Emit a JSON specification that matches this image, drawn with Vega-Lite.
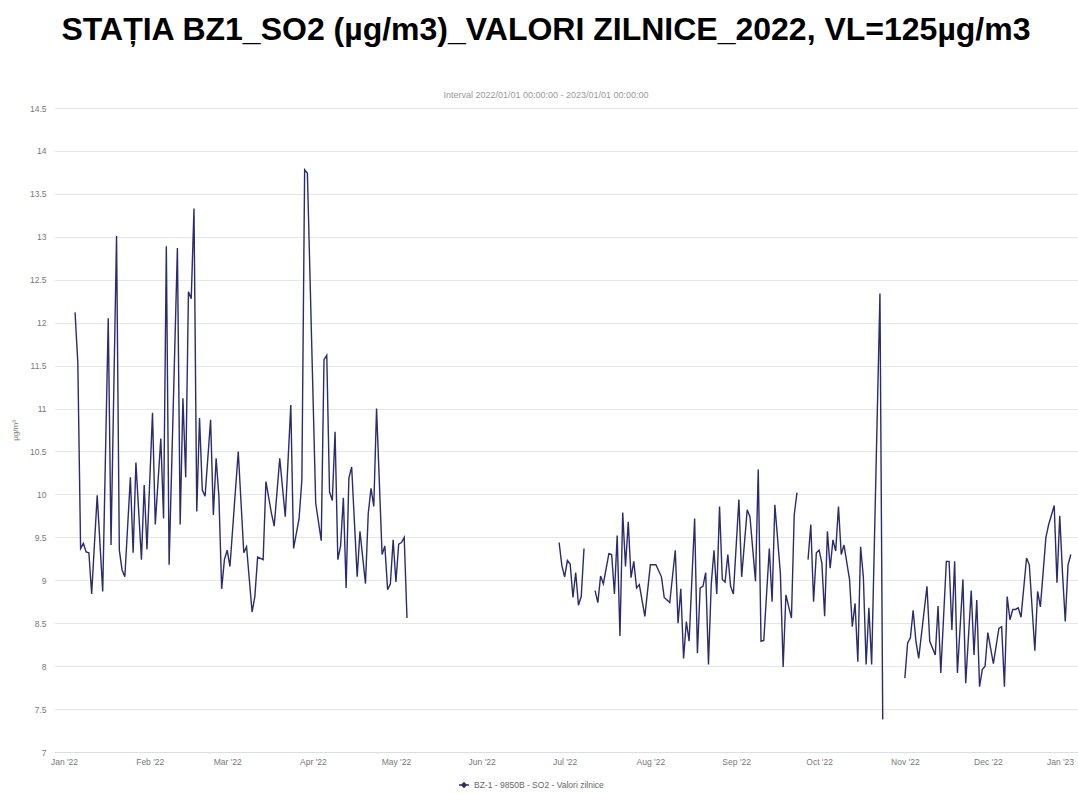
{
  "$schema": "https://vega.github.io/schema/vega-lite/v6.json",
  "width": 1024,
  "height": 644,
  "autosize": {"type": "none"},
  "padding": {"left": 54, "top": 108, "right": 0, "bottom": 42},
  "background": "white",
  "title": {
    "text": "STAȚIA BZ1_SO2 (µg/m3)_VALORI ZILNICE_2022, VL=125µg/m3",
    "subtitle": "Interval 2022/01/01 00:00:00 - 2023/01/01 00:00:00",
    "font": "Liberation Sans",
    "fontSize": 32,
    "fontWeight": "bold",
    "color": "#000000",
    "subtitleFont": "Liberation Sans",
    "subtitleFontSize": 9,
    "subtitleColor": "#999999",
    "subtitlePadding": 44,
    "offset": 3,
    "dx": -20,
    "anchor": "middle"
  },
  "data": {
    "format": {"parse": {"date": "date:'%Y-%m-%d'"}},
    "values": [
      {"date": "2022-01-05", "value": 12.12},
      {"date": "2022-01-06", "value": 11.53},
      {"date": "2022-01-07", "value": 9.37},
      {"date": "2022-01-08", "value": 9.43},
      {"date": "2022-01-09", "value": 9.33},
      {"date": "2022-01-10", "value": 9.32},
      {"date": "2022-01-11", "value": 8.84},
      {"date": "2022-01-13", "value": 9.99},
      {"date": "2022-01-15", "value": 8.87},
      {"date": "2022-01-17", "value": 12.05},
      {"date": "2022-01-18", "value": 9.41},
      {"date": "2022-01-20", "value": 13.01},
      {"date": "2022-01-21", "value": 9.35},
      {"date": "2022-01-22", "value": 9.12},
      {"date": "2022-01-23", "value": 9.04},
      {"date": "2022-01-25", "value": 10.2},
      {"date": "2022-01-26", "value": 9.32},
      {"date": "2022-01-27", "value": 10.37},
      {"date": "2022-01-29", "value": 9.24},
      {"date": "2022-01-30", "value": 10.11},
      {"date": "2022-01-31", "value": 9.36},
      {"date": "2022-02-02", "value": 10.95},
      {"date": "2022-02-03", "value": 9.65},
      {"date": "2022-02-05", "value": 10.65},
      {"date": "2022-02-06", "value": 9.72},
      {"date": "2022-02-07", "value": 12.89},
      {"date": "2022-02-08", "value": 9.18},
      {"date": "2022-02-11", "value": 12.87},
      {"date": "2022-02-12", "value": 9.65},
      {"date": "2022-02-13", "value": 11.12},
      {"date": "2022-02-14", "value": 10.2},
      {"date": "2022-02-15", "value": 12.36},
      {"date": "2022-02-16", "value": 12.28},
      {"date": "2022-02-17", "value": 13.33},
      {"date": "2022-02-18", "value": 9.8},
      {"date": "2022-02-19", "value": 10.89},
      {"date": "2022-02-20", "value": 10.05},
      {"date": "2022-02-21", "value": 9.98},
      {"date": "2022-02-23", "value": 10.87},
      {"date": "2022-02-24", "value": 9.76},
      {"date": "2022-02-25", "value": 10.42},
      {"date": "2022-02-26", "value": 9.98},
      {"date": "2022-02-27", "value": 8.9},
      {"date": "2022-02-28", "value": 9.24},
      {"date": "2022-03-01", "value": 9.35},
      {"date": "2022-03-02", "value": 9.16},
      {"date": "2022-03-05", "value": 10.5},
      {"date": "2022-03-07", "value": 9.32},
      {"date": "2022-03-08", "value": 9.39},
      {"date": "2022-03-10", "value": 8.63},
      {"date": "2022-03-11", "value": 8.81},
      {"date": "2022-03-12", "value": 9.27},
      {"date": "2022-03-14", "value": 9.24},
      {"date": "2022-03-15", "value": 10.15},
      {"date": "2022-03-17", "value": 9.78},
      {"date": "2022-03-18", "value": 9.63},
      {"date": "2022-03-20", "value": 10.42},
      {"date": "2022-03-22", "value": 9.74},
      {"date": "2022-03-24", "value": 11.04},
      {"date": "2022-03-25", "value": 9.37},
      {"date": "2022-03-27", "value": 9.72},
      {"date": "2022-03-28", "value": 10.17},
      {"date": "2022-03-29", "value": 13.78},
      {"date": "2022-03-30", "value": 13.74},
      {"date": "2022-04-02", "value": 9.9},
      {"date": "2022-04-04", "value": 9.46},
      {"date": "2022-04-05", "value": 11.57},
      {"date": "2022-04-06", "value": 11.62},
      {"date": "2022-04-07", "value": 10.03},
      {"date": "2022-04-08", "value": 9.93},
      {"date": "2022-04-09", "value": 10.73},
      {"date": "2022-04-10", "value": 9.24},
      {"date": "2022-04-11", "value": 9.4},
      {"date": "2022-04-12", "value": 9.96},
      {"date": "2022-04-13", "value": 8.91},
      {"date": "2022-04-14", "value": 10.19},
      {"date": "2022-04-15", "value": 10.32},
      {"date": "2022-04-17", "value": 9.04},
      {"date": "2022-04-18", "value": 9.57},
      {"date": "2022-04-20", "value": 8.96},
      {"date": "2022-04-21", "value": 9.78},
      {"date": "2022-04-22", "value": 10.07},
      {"date": "2022-04-23", "value": 9.86},
      {"date": "2022-04-24", "value": 11.0},
      {"date": "2022-04-26", "value": 9.3},
      {"date": "2022-04-27", "value": 9.4},
      {"date": "2022-04-28", "value": 8.89},
      {"date": "2022-04-29", "value": 8.96},
      {"date": "2022-04-30", "value": 9.47},
      {"date": "2022-05-01", "value": 8.98},
      {"date": "2022-05-02", "value": 9.42},
      {"date": "2022-05-03", "value": 9.44},
      {"date": "2022-05-04", "value": 9.5},
      {"date": "2022-05-05", "value": 8.56},
      {"date": "2022-05-06", "value": null},
      {"date": "2022-06-29", "value": 9.44},
      {"date": "2022-06-30", "value": 9.17},
      {"date": "2022-07-01", "value": 9.04},
      {"date": "2022-07-02", "value": 9.23},
      {"date": "2022-07-03", "value": 9.19},
      {"date": "2022-07-04", "value": 8.8},
      {"date": "2022-07-05", "value": 9.09},
      {"date": "2022-07-06", "value": 8.71},
      {"date": "2022-07-07", "value": 8.81},
      {"date": "2022-07-08", "value": 9.37},
      {"date": "2022-07-09", "value": null},
      {"date": "2022-07-12", "value": 8.88},
      {"date": "2022-07-13", "value": 8.74},
      {"date": "2022-07-14", "value": 9.05},
      {"date": "2022-07-15", "value": 8.96},
      {"date": "2022-07-17", "value": 9.31},
      {"date": "2022-07-18", "value": 9.3},
      {"date": "2022-07-19", "value": 8.84},
      {"date": "2022-07-20", "value": 9.52},
      {"date": "2022-07-21", "value": 8.35},
      {"date": "2022-07-22", "value": 9.79},
      {"date": "2022-07-23", "value": 9.16},
      {"date": "2022-07-24", "value": 9.68},
      {"date": "2022-07-25", "value": 9.03},
      {"date": "2022-07-26", "value": 9.22},
      {"date": "2022-07-27", "value": 8.91},
      {"date": "2022-07-28", "value": 8.95},
      {"date": "2022-07-30", "value": 8.58},
      {"date": "2022-08-01", "value": 9.18},
      {"date": "2022-08-03", "value": 9.18},
      {"date": "2022-08-05", "value": 9.04},
      {"date": "2022-08-06", "value": 8.8},
      {"date": "2022-08-08", "value": 8.74},
      {"date": "2022-08-10", "value": 9.35},
      {"date": "2022-08-11", "value": 8.5},
      {"date": "2022-08-12", "value": 8.9},
      {"date": "2022-08-13", "value": 8.09},
      {"date": "2022-08-14", "value": 8.52},
      {"date": "2022-08-15", "value": 8.29},
      {"date": "2022-08-17", "value": 9.72},
      {"date": "2022-08-18", "value": 8.15},
      {"date": "2022-08-19", "value": 8.91},
      {"date": "2022-08-20", "value": 8.93},
      {"date": "2022-08-21", "value": 9.09},
      {"date": "2022-08-22", "value": 8.02},
      {"date": "2022-08-23", "value": 8.95},
      {"date": "2022-08-24", "value": 9.35},
      {"date": "2022-08-25", "value": 8.84},
      {"date": "2022-08-26", "value": 9.86},
      {"date": "2022-08-27", "value": 9.01},
      {"date": "2022-08-28", "value": 8.98},
      {"date": "2022-08-29", "value": 9.3},
      {"date": "2022-08-30", "value": 8.93},
      {"date": "2022-08-31", "value": 8.84},
      {"date": "2022-09-02", "value": 9.94},
      {"date": "2022-09-03", "value": 9.04},
      {"date": "2022-09-05", "value": 9.82},
      {"date": "2022-09-06", "value": 9.74},
      {"date": "2022-09-08", "value": 8.99},
      {"date": "2022-09-09", "value": 10.29},
      {"date": "2022-09-10", "value": 8.29},
      {"date": "2022-09-11", "value": 8.3},
      {"date": "2022-09-13", "value": 9.37},
      {"date": "2022-09-14", "value": 8.75},
      {"date": "2022-09-15", "value": 9.88},
      {"date": "2022-09-17", "value": 9.08},
      {"date": "2022-09-18", "value": 7.99},
      {"date": "2022-09-19", "value": 8.83},
      {"date": "2022-09-21", "value": 8.56},
      {"date": "2022-09-22", "value": 9.76},
      {"date": "2022-09-23", "value": 10.02},
      {"date": "2022-09-24", "value": null},
      {"date": "2022-09-27", "value": 9.24},
      {"date": "2022-09-28", "value": 9.65},
      {"date": "2022-09-29", "value": 8.75},
      {"date": "2022-09-30", "value": 9.32},
      {"date": "2022-10-01", "value": 9.35},
      {"date": "2022-10-02", "value": 9.2},
      {"date": "2022-10-03", "value": 8.58},
      {"date": "2022-10-04", "value": 9.57},
      {"date": "2022-10-05", "value": 9.14},
      {"date": "2022-10-06", "value": 9.47},
      {"date": "2022-10-07", "value": 9.34},
      {"date": "2022-10-08", "value": 9.86},
      {"date": "2022-10-09", "value": 9.3},
      {"date": "2022-10-10", "value": 9.41},
      {"date": "2022-10-12", "value": 9.01},
      {"date": "2022-10-13", "value": 8.46},
      {"date": "2022-10-14", "value": 8.73},
      {"date": "2022-10-15", "value": 8.05},
      {"date": "2022-10-16", "value": 9.39},
      {"date": "2022-10-17", "value": 9.04},
      {"date": "2022-10-18", "value": 8.02},
      {"date": "2022-10-19", "value": 8.68},
      {"date": "2022-10-20", "value": 8.02},
      {"date": "2022-10-23", "value": 12.34},
      {"date": "2022-10-24", "value": 7.38},
      {"date": "2022-10-25", "value": null},
      {"date": "2022-11-01", "value": 7.86},
      {"date": "2022-11-02", "value": 8.27},
      {"date": "2022-11-03", "value": 8.33},
      {"date": "2022-11-04", "value": 8.65},
      {"date": "2022-11-05", "value": 8.29},
      {"date": "2022-11-06", "value": 8.09},
      {"date": "2022-11-09", "value": 8.93},
      {"date": "2022-11-10", "value": 8.29},
      {"date": "2022-11-12", "value": 8.13},
      {"date": "2022-11-13", "value": 8.7},
      {"date": "2022-11-14", "value": 7.92},
      {"date": "2022-11-16", "value": 9.22},
      {"date": "2022-11-17", "value": 9.22},
      {"date": "2022-11-18", "value": 8.42},
      {"date": "2022-11-19", "value": 9.22},
      {"date": "2022-11-20", "value": 7.92},
      {"date": "2022-11-22", "value": 9.01},
      {"date": "2022-11-23", "value": 7.8},
      {"date": "2022-11-25", "value": 8.88},
      {"date": "2022-11-26", "value": 8.13},
      {"date": "2022-11-27", "value": 8.77},
      {"date": "2022-11-28", "value": 7.76},
      {"date": "2022-11-29", "value": 7.96},
      {"date": "2022-11-30", "value": 8.0},
      {"date": "2022-12-01", "value": 8.39},
      {"date": "2022-12-03", "value": 8.03},
      {"date": "2022-12-05", "value": 8.44},
      {"date": "2022-12-06", "value": 8.46},
      {"date": "2022-12-07", "value": 7.76},
      {"date": "2022-12-08", "value": 8.81},
      {"date": "2022-12-09", "value": 8.54},
      {"date": "2022-12-10", "value": 8.66},
      {"date": "2022-12-11", "value": 8.66},
      {"date": "2022-12-12", "value": 8.68},
      {"date": "2022-12-13", "value": 8.57},
      {"date": "2022-12-15", "value": 9.26},
      {"date": "2022-12-16", "value": 9.18},
      {"date": "2022-12-18", "value": 8.18},
      {"date": "2022-12-19", "value": 8.87},
      {"date": "2022-12-20", "value": 8.69},
      {"date": "2022-12-22", "value": 9.5},
      {"date": "2022-12-23", "value": 9.65},
      {"date": "2022-12-25", "value": 9.87},
      {"date": "2022-12-26", "value": 8.97},
      {"date": "2022-12-27", "value": 9.75},
      {"date": "2022-12-28", "value": 9.08},
      {"date": "2022-12-29", "value": 8.52},
      {"date": "2022-12-30", "value": 9.18},
      {"date": "2022-12-31", "value": 9.3}
    ]
  },
  "transform": [
    {"calculate": "'BZ-1 - 9850B - SO2 - Valori zilnice'", "as": "series"}
  ],
  "mark": {"type": "line", "strokeWidth": 1.4, "invalid": "break-paths-filter-domains"},
  "encoding": {
    "x": {
      "field": "date",
      "type": "temporal",
      "scale": {
        "domain": [
          {"year": 2021, "month": 12, "date": 28, "hours": 9, "minutes": 15},
          {"year": 2023, "month": 1, "date": 2, "hours": 14, "minutes": 24}
        ]
      },
      "axis": {
        "title": null,
        "values": [
          {"year": 2022, "month": 1, "date": 1},
          {"year": 2022, "month": 2, "date": 1},
          {"year": 2022, "month": 3, "date": 1},
          {"year": 2022, "month": 4, "date": 1},
          {"year": 2022, "month": 5, "date": 1},
          {"year": 2022, "month": 6, "date": 1},
          {"year": 2022, "month": 7, "date": 1},
          {"year": 2022, "month": 8, "date": 1},
          {"year": 2022, "month": 9, "date": 1},
          {"year": 2022, "month": 10, "date": 1},
          {"year": 2022, "month": 11, "date": 1},
          {"year": 2022, "month": 12, "date": 1},
          {"year": 2023, "month": 1, "date": 1}
        ],
        "format": "%b '%y",
        "grid": false,
        "ticks": false,
        "domain": true,
        "domainColor": "#d8dde8",
        "labelFont": "Liberation Sans",
        "labelFontSize": 8.5,
        "labelColor": "#777777",
        "labelPadding": 5,
        "labelFlush": 6,
        "labelOverlap": false
      }
    },
    "y": {
      "field": "value",
      "type": "quantitative",
      "scale": {"domain": [7, 14.5], "nice": false, "zero": false},
      "axis": {
        "title": "µg/m³",
        "values": [7, 7.5, 8, 8.5, 9, 9.5, 10, 10.5, 11, 11.5, 12, 12.5, 13, 13.5, 14, 14.5],
        "format": "~g",
        "grid": true,
        "gridColor": "#e6e6e6",
        "domain": false,
        "ticks": false,
        "labelFont": "Liberation Sans",
        "labelFontSize": 8.5,
        "labelColor": "#777777",
        "labelPadding": 8,
        "titleFont": "Liberation Sans",
        "titleFontSize": 8,
        "titleFontWeight": "normal",
        "titleColor": "#777777",
        "titlePadding": 10
      }
    },
    "color": {
      "field": "series",
      "type": "nominal",
      "scale": {"range": ["#2b2b6f"]},
      "legend": {
        "title": null,
        "orient": "none",
        "legendX": 404,
        "legendY": 671,
        "labelFont": "Liberation Sans",
        "labelFontSize": 8.5,
        "labelColor": "#666666",
        "symbolType": "M-1,0H1M0,-0.45L0.45,0L0,0.45L-0.45,0Z",
        "symbolSize": 100,
        "symbolStrokeWidth": 1.3,
        "symbolFillColor": "#2b2b6f",
        "symbolStrokeColor": "#2b2b6f"
      }
    }
  },
  "config": {
    "view": {"stroke": null}
  }
}
